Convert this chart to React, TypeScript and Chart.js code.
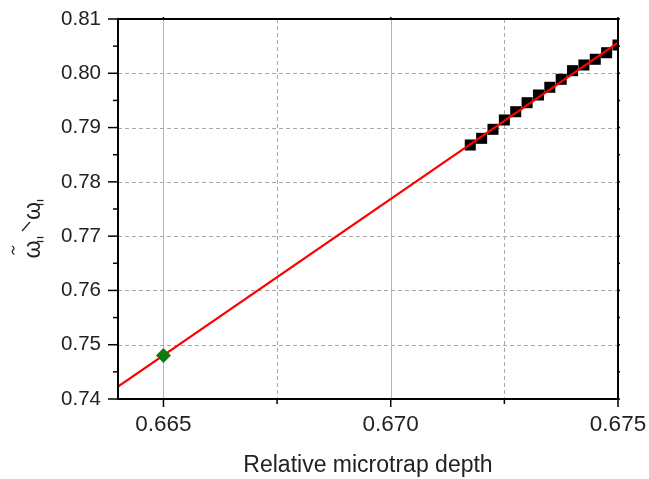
import React, { useEffect, useRef } from "react";
import { Chart, registerables } from "chart.js";

Chart.register(...registerables);

const squareX = [0.67175, 0.672, 0.67225, 0.6725, 0.67275, 0.673, 0.67325, 0.6735, 0.67375, 0.674, 0.67425, 0.6745, 0.67475, 0.675];
const squareY = [0.78679, 0.78802, 0.78968, 0.7914, 0.79292, 0.79458, 0.796, 0.79742, 0.79889, 0.80048, 0.80153, 0.80258, 0.80379, 0.80521];
const fitX = [0.664, 0.675];
const fitY = [0.74227, 0.80564];
const markX = [0.665];
const markY = [0.748];

const xMajor = [0.665, 0.67, 0.675];
const xMinor = [0.6675, 0.6725];
const yMajor = [0.74, 0.75, 0.76, 0.77, 0.78, 0.79, 0.8, 0.81];
const yMinor = [0.745, 0.755, 0.765, 0.775, 0.785, 0.795, 0.805];
const xTitle = "Relative microtrap depth";

const FONT = "'Liberation Sans', Arial, sans-serif";

const framePlugin = {
  id: "frame",
  beforeDatasetsDraw(chart: any) {
    const { ctx, chartArea: a, scales } = chart;
    const xs = scales.x, ys = scales.y;
    ctx.save();
    ctx.strokeStyle = "#b4b4b4";
    ctx.lineWidth = 1;
    ctx.setLineDash([]);
    xMajor.forEach((v) => {
      const px = Math.round(xs.getPixelForValue(v)) + 0.5;
      ctx.beginPath(); ctx.moveTo(px, a.top); ctx.lineTo(px, a.bottom); ctx.stroke();
    });
    ctx.strokeStyle = "#a8a8a8";
    ctx.setLineDash([4, 3]);
    xMinor.forEach((v) => {
      const px = Math.round(xs.getPixelForValue(v)) + 0.5;
      ctx.beginPath(); ctx.moveTo(px, a.top); ctx.lineTo(px, a.bottom); ctx.stroke();
    });
    yMajor.forEach((v) => {
      const py = Math.round(ys.getPixelForValue(v)) + 0.5;
      ctx.beginPath(); ctx.moveTo(a.left, py); ctx.lineTo(a.right, py); ctx.stroke();
    });
    ctx.restore();
  },
  afterDatasetsDraw(chart: any) {
    const { ctx, chartArea: a, scales } = chart;
    const xs = scales.x, ys = scales.y;
    ctx.save();
    ctx.strokeStyle = "#000";
    ctx.lineWidth = 2;
    ctx.setLineDash([]);
    ctx.strokeRect(a.left, a.top, a.right - a.left, a.bottom - a.top);
    ctx.lineWidth = 1.5;
    const line = (x1: number, y1: number, x2: number, y2: number) => {
      ctx.beginPath(); ctx.moveTo(x1, y1); ctx.lineTo(x2, y2); ctx.stroke();
    };
    xMajor.forEach((v) => {
      const px = xs.getPixelForValue(v);
      line(px, a.bottom, px, a.bottom + 8);
      line(px, a.top, px, a.top - 2);
    });
    xMinor.forEach((v) => {
      const px = xs.getPixelForValue(v);
      line(px, a.bottom, px, a.bottom + 5);
    });
    yMajor.forEach((v) => {
      const py = ys.getPixelForValue(v);
      line(a.left, py, a.left - 10, py);
      line(a.right, py, a.right + 2, py);
    });
    yMinor.forEach((v) => {
      const py = ys.getPixelForValue(v);
      line(a.left, py, a.left - 5, py);
      line(a.right, py, a.right + 2, py);
    });

    // x axis title
    ctx.fillStyle = "#222";
    ctx.font = `23px ${FONT}`;
    ctx.textAlign = "center";
    ctx.textBaseline = "alphabetic";
    ctx.fillText(xTitle, (a.left + a.right) / 2, 472);

    // y axis title: omega-tilde_|| / omega_||, rotated
    ctx.translate(40, 258);
    ctx.rotate(-Math.PI / 2);
    ctx.textAlign = "left";
    ctx.font = `23px ${FONT}`;
    ctx.fillText("\u03C9", -0.5, 0);
    ctx.fillText("\u03C9", 38, 0);
    ctx.strokeStyle = "#222";
    ctx.lineWidth = 1.3;
    // tilde over first omega
    ctx.beginPath();
    ctx.moveTo(3.5, -25.5);
    ctx.bezierCurveTo(5.5, -29, 7.5, -27.5, 8, -27);
    ctx.bezierCurveTo(8.5, -26, 10.5, -25, 12, -28);
    ctx.stroke();
    // subscript bars
    [16.5, 20.5, 53.5, 57.5].forEach((t) => line(t, -3, t, 3.5));
    // slash
    line(27, -18, 36, -10);
    ctx.restore();
  },
};

const pts = (xs: number[], ys: number[]) => xs.map((x, i) => ({ x, y: ys[i] }));

export default function App() {
  const ref = useRef<HTMLCanvasElement>(null);
  useEffect(() => {
    const chart = new Chart(ref.current!, {
      type: "scatter",
      data: {
        datasets: [
          {
            data: pts(markX, markY),
            pointStyle: "rectRot",
            pointRadius: 7.5,
            backgroundColor: "#0b7d0b",
            borderColor: "#0b7d0b",
            borderWidth: 0,
          },
          {
            data: pts(fitX, fitY),
            showLine: true,
            borderColor: "#ff0000",
            borderWidth: 2.2,
            pointRadius: 0,
          },
          {
            data: pts(squareX, squareY),
            pointStyle: "rect",
            pointRadius: 7.8,
            backgroundColor: "#000",
            borderColor: "#000",
            borderWidth: 0,
          },
        ],
      },
      options: {
        animation: false,
        responsive: false,
        layout: { padding: { left: 0, top: 19, right: 31, bottom: 0 } },
        plugins: { legend: { display: false }, tooltip: { enabled: false } },
        scales: {
          x: {
            type: "linear",
            min: 0.664,
            max: 0.675,
            afterBuildTicks: (s: any) => { s.ticks = xMajor.map((v) => ({ value: v })); },
            afterFit: (s: any) => {
              s.height = 80;
              s.paddingLeft = 0; s.paddingRight = 0; s.paddingTop = 0; s.paddingBottom = 0;
            },
            grid: { display: false },
            border: { display: false },
            ticks: {
              padding: 4,
              color: "#222",
              font: { family: FONT, size: 22.5 },
              callback: (v: any) => Number(v).toFixed(3),
              maxRotation: 0,
            },
          },
          y: {
            type: "linear",
            min: 0.74,
            max: 0.81,
            afterBuildTicks: (s: any) => { s.ticks = yMajor.map((v) => ({ value: v })); },
            afterFit: (s: any) => {
              s.width = 118;
              s.paddingLeft = 0; s.paddingRight = 0; s.paddingTop = 0; s.paddingBottom = 0;
            },
            grid: { display: false },
            border: { display: false },
            ticks: {
              padding: 9,
              color: "#222",
              font: { family: FONT, size: 20.5 },
              callback: (v: any) => Number(v).toFixed(2),
            },
          },
        },
      },
      plugins: [framePlugin],
    });
    return () => chart.destroy();
  }, []);
  return (
    <div style={{ position: "fixed", left: 0, top: 0, width: 649, height: 479, background: "#fff" }}>
      <canvas ref={ref} width={649} height={479} style={{ width: 649, height: 479 }} />
    </div>
  );
}
